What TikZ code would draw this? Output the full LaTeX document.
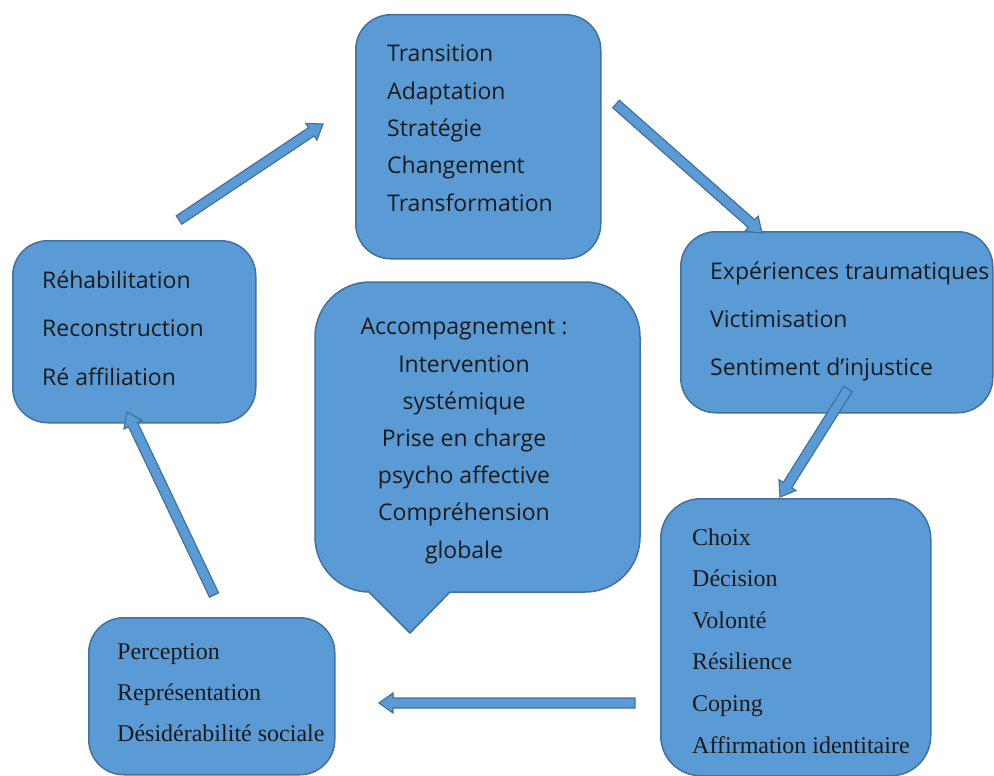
\documentclass[tikz,border=0pt]{standalone}
\usepackage{fontspec}
\setmainfont{Liberation Serif}
\newfontfamily\uisans{Open Sans}
\usetikzlibrary{calc}
\definecolor{boxfill}{HTML}{5B9BD5}
\definecolor{boxline}{HTML}{41719C}
\definecolor{txt}{HTML}{1A1A1A}
\tikzset{
  box/.style={draw=boxline, fill=boxfill, line width=1.5pt, rounded corners=#1, inner sep=0pt, anchor=north west},
  box/.default=35pt,
  calloutshape/.style={draw=boxline, fill=boxfill, line width=1.5pt, line join=round},
  sanstext/.style={font=\uisans\fontsize{23}{#1}\selectfont, align=left, inner sep=0pt, anchor=base west, text=txt},
  centertext/.style={font=\uisans\fontsize{23}{37.2}\selectfont, align=center, inner sep=0pt, anchor=base, text=txt},
  seriftext/.style={font=\fontsize{24}{#1}\selectfont, align=left, inner sep=0pt, anchor=base west, text=txt},
  blockarr/.style={draw=boxline, fill=boxfill, line width=1.2pt, line join=miter},
}
\newcommand\blockarrow[2]{%
  \coordinate (hb) at ($(#2)!14pt!(#1)$);
  \filldraw[blockarr] ($(#1)!5pt!90:(#2)$) -- ($(hb)!5pt!90:(#2)$) -- ($(hb)!10pt!90:(#2)$) -- (#2)
    -- ($(hb)!10pt!-90:(#2)$) -- ($(hb)!5pt!-90:(#2)$) -- ($(#1)!5pt!-90:(#2)$) -- cycle;
}
\begin{document}
\begin{tikzpicture}[x=1pt,y=-1pt]
\useasboundingbox (0,0) rectangle (994,776);
% boxes
\node[box, minimum width=245, minimum height=244] (top) at (355,14) {};
\node[box, minimum width=312, minimum height=181] (right) at (680,231) {};
\node[box, minimum width=243, minimum height=182] (left) at (12,240) {};
\node[box=40pt, minimum width=270, minimum height=277] (bright) at (660,498) {};
\node[box, minimum width=246, minimum height=157] (bleft) at (88,617) {};
% callout
\path[calloutshape] (410,633) -- (450,592) -- (585,592)
  .. controls (615.4,592) and (640,567.4) .. (640,537) -- (640,337)
  .. controls (640,306.6) and (615.4,282) .. (585,282) -- (370,282)
  .. controls (339.6,282) and (315,306.6) .. (315,337) -- (315,537)
  .. controls (315,567.4) and (339.6,592) .. (369,592) -- cycle;
% texts (anchor = baseline of last line)
\node[sanstext=37.3] (ttop) at (387,211) {Transition\\Adaptation\\Stratégie\\Changement\\Transformation};
\node[sanstext=48] (tright) at (710,375) {Expériences traumatiques\\Victimisation\\Sentiment d’injustice};
\node[sanstext=48.5] (tleft) at (42,385) {Réhabilitation\\Reconstruction\\Ré affiliation};
\node[centertext] (tcall) at (464,558) {Accompagnement :\\Intervention\\systémique\\Prise en charge\\psycho affective\\Compréhension\\globale};
\node[seriftext=41.6] (tbright) at (692,753) {Choix\\Décision\\Volonté\\Résilience\\Coping\\Affirmation identitaire};
\node[seriftext=41] (tbleft) at (117,741) {Perception\\Représentation\\Désidérabilité sociale};
% arrows
\coordinate (a1s) at (179,220); \coordinate (a1e) at (323,124);
\coordinate (a2s) at (616,104); \coordinate (a2e) at (762,233);
\coordinate (a3s) at (848,389); \coordinate (a3e) at (780,497);
\coordinate (a4s) at (635,703); \coordinate (a4e) at (379,703);
\coordinate (a5s) at (214,595); \coordinate (a5e) at (127,412);
\blockarrow{a1s}{a1e}
\blockarrow{a2s}{a2e}
\blockarrow{a3s}{a3e}
\blockarrow{a4s}{a4e}
\blockarrow{a5s}{a5e}
\end{tikzpicture}
\end{document}
